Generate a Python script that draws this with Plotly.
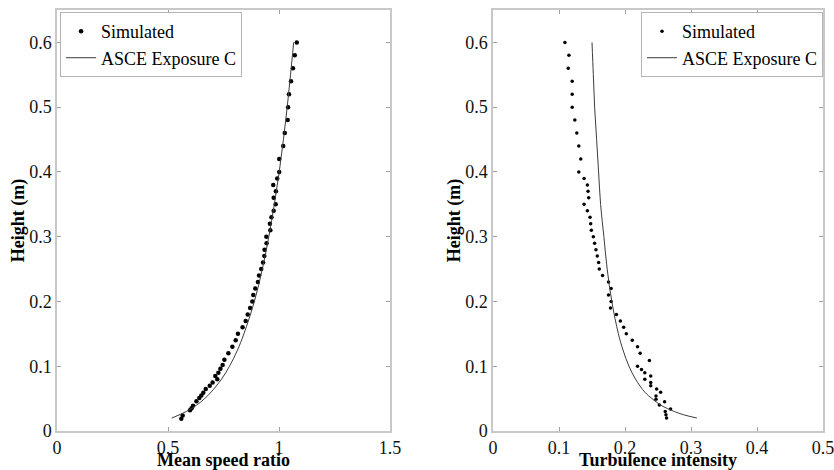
import plotly.graph_objects as go

# ---------------- data ----------------
# Left panel: simulated mean speed ratio vs height
sim_speed_height = [0.60, 0.58, 0.56, 0.54, 0.52, 0.50, 0.48, 0.46, 0.44, 0.42,
                    0.40, 0.39, 0.38, 0.37, 0.36, 0.35, 0.34, 0.33, 0.32, 0.31,
                    0.30, 0.29, 0.28, 0.27, 0.26, 0.25, 0.24, 0.23, 0.22, 0.21,
                    0.20, 0.19, 0.18, 0.17, 0.16, 0.15, 0.14, 0.13, 0.12, 0.11,
                    0.102, 0.096, 0.090, 0.085, 0.080, 0.075, 0.070, 0.065, 0.059,
                    0.055, 0.051, 0.046, 0.039, 0.035, 0.032, 0.024, 0.019]
sim_speed_ratio = [1.080, 1.071, 1.063, 1.054, 1.045, 1.041, 1.039, 1.026, 1.019, 1.001,
                   1.001, 0.992, 0.974, 0.986, 0.976, 0.985, 0.976, 0.966, 0.959, 0.961,
                   0.943, 0.944, 0.935, 0.934, 0.928, 0.920, 0.910, 0.905, 0.893, 0.884,
                   0.880, 0.870, 0.859, 0.850, 0.836, 0.815, 0.805, 0.790, 0.772, 0.754,
                   0.746, 0.736, 0.727, 0.713, 0.722, 0.701, 0.688, 0.670, 0.659,
                   0.650, 0.641, 0.628, 0.613, 0.606, 0.599, 0.566, 0.560]

# Left panel: ASCE Exposure C mean speed profile
asce_speed_height = [0.02, 0.03, 0.04, 0.05, 0.06, 0.08, 0.10, 0.125, 0.15, 0.20,
                     0.25, 0.30, 0.35, 0.40, 0.45, 0.50, 0.55, 0.60]
asce_speed_ratio = [0.517, 0.582, 0.629, 0.665, 0.694, 0.741, 0.777, 0.813, 0.842, 0.889,
                    0.925, 0.954, 0.979, 1.001, 1.020, 1.037, 1.052, 1.066]

# Right panel: simulated turbulence intensity vs height
sim_ti_height = [0.60, 0.58, 0.56, 0.54, 0.52, 0.50, 0.48, 0.46, 0.44, 0.42,
                 0.40, 0.39, 0.38, 0.37, 0.36, 0.35, 0.34, 0.33, 0.32, 0.31,
                 0.30, 0.29, 0.28, 0.27, 0.26, 0.25, 0.24, 0.23, 0.22, 0.21,
                 0.20, 0.19, 0.18, 0.17, 0.16, 0.15, 0.14, 0.13, 0.12, 0.109,
                 0.100, 0.095, 0.090, 0.085, 0.080, 0.075, 0.070, 0.065, 0.060,
                 0.054, 0.049, 0.045, 0.040, 0.034, 0.030, 0.025, 0.020]
sim_ti = [0.109, 0.115, 0.114, 0.120, 0.120, 0.120, 0.124, 0.127, 0.130, 0.133,
          0.130, 0.138, 0.143, 0.144, 0.145, 0.138, 0.143, 0.147, 0.148, 0.149,
          0.152, 0.154, 0.156, 0.158, 0.160, 0.161, 0.166, 0.175, 0.179, 0.175,
          0.179, 0.178, 0.187, 0.193, 0.198, 0.202, 0.211, 0.219, 0.223, 0.237,
          0.219, 0.225, 0.230, 0.239, 0.230, 0.239, 0.239, 0.248, 0.254,
          0.247, 0.247, 0.260, 0.252, 0.269, 0.261, 0.262, 0.263]

# Right panel: ASCE Exposure C turbulence intensity profile
asce_ti_height = [0.02, 0.025, 0.03, 0.04, 0.05, 0.06, 0.08, 0.10, 0.125, 0.15,
                  0.20, 0.25, 0.30, 0.35, 0.40, 0.45, 0.50, 0.55, 0.60]
asce_ti = [0.309, 0.289, 0.275, 0.254, 0.241, 0.230, 0.216, 0.206, 0.197, 0.190,
           0.180, 0.173, 0.168, 0.163, 0.160, 0.157, 0.154, 0.152, 0.150]

legend_names = ["Simulated", "ASCE Exposure C"]
x_titles = ["Mean speed ratio", "Turbulence intensity"]
y_title = "Height (m)"
height_ticks = [0, 0.1, 0.2, 0.3, 0.4, 0.5, 0.6]
speed_ticks = [0, 0.5, 1, 1.5]
ti_ticks = [0, 0.1, 0.2, 0.3, 0.4, 0.5]

# ---------------- figure ----------------
FONT = "Liberation Serif"
AXIS_GRAY = "#c8c8c8"
LINE_GRAY = "#3c3c3c"

fig = go.Figure()

fig.add_trace(go.Scatter(x=sim_speed_ratio, y=sim_speed_height, mode="markers",
                         name=legend_names[0], marker=dict(color="black", size=4.5),
                         xaxis="x", yaxis="y", legend="legend"))
fig.add_trace(go.Scatter(x=asce_speed_ratio, y=asce_speed_height, mode="lines",
                         name=legend_names[1], line=dict(color=LINE_GRAY, width=1, shape="spline"),
                         xaxis="x", yaxis="y", legend="legend"))
fig.add_trace(go.Scatter(x=sim_ti, y=sim_ti_height, mode="markers",
                         name=legend_names[0], marker=dict(color="black", size=3.5),
                         xaxis="x2", yaxis="y2", legend="legend2"))
fig.add_trace(go.Scatter(x=asce_ti, y=asce_ti_height, mode="lines",
                         name=legend_names[1], line=dict(color=LINE_GRAY, width=1, shape="spline"),
                         xaxis="x2", yaxis="y2", legend="legend2"))

W, H = 834, 470
ml, mr, mt, mb = 57, 11, 10, 39
pw = W - ml - mr
left_dom = [0, (390 - ml) / pw]
right_dom = [(493 - ml) / pw, 1]

TICKFONT = dict(family=FONT, size=18, color="#111111")
TITLEFONT = dict(family=FONT, size=18, color="black", weight="bold")


def base_axis():
    return dict(showgrid=False, zeroline=False, showline=True, linecolor=AXIS_GRAY,
                linewidth=1.5, mirror="ticks", ticks="inside", ticklen=4,
                tickcolor="#a0a0a0", tickfont=TICKFONT, automargin=False)


def xaxis(dom, rng, tv, title, anchor):
    d = base_axis()
    d.update(domain=dom, range=rng, tickvals=tv, anchor=anchor,
             ticktext=[("%g" % v) for v in tv],
             ticklabeloverflow="allow",
             title=dict(text=title, standoff=9, font=TITLEFONT))
    return d


def yaxis(rng, tv, anchor):
    d = base_axis()
    d.update(domain=[0, 1], range=rng, tickvals=tv, anchor=anchor,
             ticktext=[("%g" % v) for v in tv],
             title=dict(text=y_title, standoff=0, font=TITLEFONT))
    return d


legend_common = dict(font=dict(family=FONT, size=18, color="black"),
                     bgcolor="white", bordercolor="#b4b4b4", borderwidth=1,
                     yanchor="top", y=0.995, itemwidth=30, tracegroupgap=0)

fig.update_layout(
    width=W, height=H,
    margin=dict(l=ml, r=mr, t=mt, b=mb, autoexpand=False),
    paper_bgcolor="white", plot_bgcolor="white",
    font=dict(family=FONT, size=18, color="black"),
    xaxis=xaxis(left_dom, [0, 1.5], speed_ticks, x_titles[0], "y"),
    yaxis=yaxis([0, 0.65], height_ticks, "x"),
    xaxis2=xaxis(right_dom, [0, 0.5], ti_ticks, x_titles[1], "y2"),
    yaxis2=yaxis([0, 0.65], height_ticks, "x2"),
    legend=dict(legend_common, x=0.004, xanchor="left"),
    legend2=dict(legend_common, x=1.0, xanchor="right"),
    showlegend=True,
)

fig.write_html("out.html", config={"displayModeBar": False},
               post_script="document.body.style.margin='0';document.body.style.overflow='hidden';")
